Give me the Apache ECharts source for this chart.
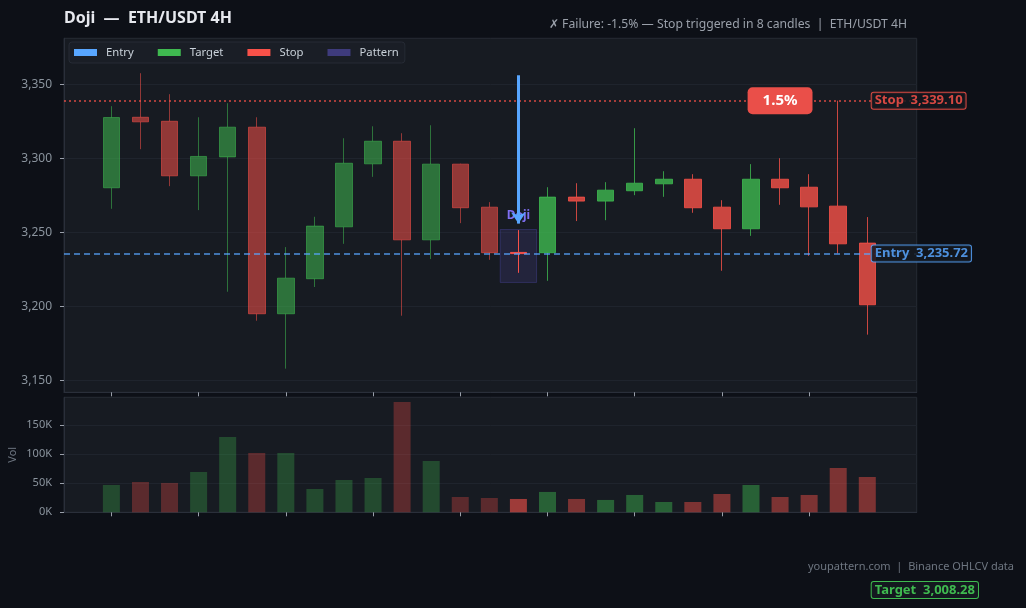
<!DOCTYPE html>
<html>
<head>
<meta charset="utf-8">
<script src="https://cdn.jsdelivr.net/npm/echarts@6/dist/echarts.min.js"></script>
<style>
html,body{margin:0;padding:0;background:#0d1017;}
#chart{width:1026px;height:608px;}
</style>
</head>
<body>
<div id="chart"></div>
<script>
// ---------- data ----------
const candleIndex = [0,1,2,3,4,5,6,7,8,9,10,11,12,13,14,15,16,17,18,19,20,21,22,23,24,25,26];
const opens  = [3280.2,3327.9,3325.2,3288.3,3301.1,3321.2,3195.0,3218.7,3253.8,3296.4,3311.7,3245.0,3296.2,3267.1,3236.5,3236.3,3273.9,3271.2,3278.2,3282.9,3286.0,3267.1,3252.5,3286.0,3280.6,3267.8,3242.8];
const closes = [3327.7,3324.8,3288.3,3301.4,3321.2,3195.0,3219.1,3254.3,3296.8,3311.7,3245.0,3296.2,3266.7,3236.3,3235.7,3273.9,3271.2,3278.6,3283.3,3286.0,3266.7,3252.5,3286.0,3280.2,3267.3,3242.3,3201.1];
const lows   = [3266.0,3306.3,3281.3,3265.1,3209.9,3190.3,3157.9,3213.1,3242.3,3287.6,3193.7,3232.0,3256.3,3231.5,3222.7,3217.3,3257.7,3258.3,3275.2,3274.1,3263.3,3224.1,3247.7,3268.7,3234.2,3235.8,3180.9];
const highs  = [3335.4,3357.7,3343.5,3327.9,3337.4,3327.9,3240.1,3260.6,3313.7,3321.8,3317.1,3322.5,3296.5,3270.5,3251.6,3280.6,3283.3,3284.0,3320.5,3291.4,3289.4,3271.8,3296.2,3300.2,3289.4,3339.1,3260.4];
const volumes = [47100,52300,50600,69500,129900,102300,102300,40200,55700,59200,190200,88500,26400,24700,23000,35100,23000,21300,29900,17800,17800,31600,47100,26400,29900,76400,60900];

const priceTicks  = [3150,3200,3250,3300,3350];
const volumeTicks = [0,50000,100000,150000];
const timeTicks   = [0,3,6,9,12,15,18,21,24];
const legendNames = ['Entry','Target','Stop','Pattern'];

const entryPrice  = 3235.72;
const stopPrice   = 3339.10;
const targetPrice = 3008.28;
const patternIndex = 14;
const patternName = 'Doji';
const patternBoxX = [13.375, 14.625];
const patternBoxY = [3252.0, 3216.2];
const arrowY = [3356.3, 3256.0];
const badgeIndex = 23;
const badgeText = '1.5%';

// ---------- styling ----------
const FONT = 'Noto Sans';
const GREEN = '#3fb950', RED = '#f85149', BLUE = '#58a6ff', PURPLE = '#3e3b7c';
const xMin = -1.63, xMax = 27.7;
const fmt = v => v.toLocaleString('en-US', {minimumFractionDigits: 2, maximumFractionDigits: 2});

const candleData = candleIndex.map((x, i) => ({
  value: [x, opens[i], closes[i], lows[i], highs[i]],
  itemStyle: {opacity: i < patternIndex ? 0.55 : (i === patternIndex ? 1 : 0.8)}
}));
const volumeData = candleIndex.map((x, i) => ({
  value: [x, volumes[i]],
  itemStyle: {
    color: closes[i] >= opens[i] ? GREEN : RED,
    opacity: i < patternIndex ? 0.3 : (i === patternIndex ? 0.6 : 0.45)
  }
}));

const LABEL_SHIFT = -45;
function labelStyle(color) {
  return {
    color: color, fontFamily: FONT, fontSize: 13, fontWeight: 'bold',
    backgroundColor: '#14181f', borderColor: color, borderWidth: 1,
    borderRadius: 2, padding: [2, 3, 1, 3]
  };
}
function levelLine(color, type, width, opacity, price, text) {
  return {
    silent: true,
    symbol: ['none', 'none'],
    lineStyle: {color: color, type: type, width: width, opacity: opacity},
    label: Object.assign({show: true, position: 'end', distance: LABEL_SHIFT,
                          formatter: text + '  ' + fmt(price)}, labelStyle(color)),
    emphasis: {disabled: true},
    data: [{yAxis: price}]
  };
}

const chart = echarts.init(document.getElementById('chart'), null, {renderer: 'canvas'});
const gridBase = {left: 64, right: 109.3, show: true, backgroundColor: '#171b22',
                  borderColor: '#262b34', borderWidth: 1, outerBoundsMode: 'none', containLabel: false};
const subtitle = {type: 'text', right: 119, top: 19,
  style: {text: '✗ Failure: -1.5% — Stop triggered in 8 candles  |  ETH/USDT 4H', fill: '#9aa0aa', font: '12.2px "Noto Sans"'}};
const footer = {type: 'text', right: 12, top: 561,
  style: {text: 'youpattern.com  |  Binance OHLCV data', fill: '#6e7681', font: '11px "Noto Sans"'}};

chart.setOption({
  animation: false,
  backgroundColor: '#0d1017',
  textStyle: {fontFamily: FONT},
  title: {
    text: 'Doji  —  ETH/USDT 4H',
    left: 59, top: 5,
    textStyle: {color: '#e6e8ee', fontSize: 16, fontWeight: 'bold', fontFamily: FONT}
  },
  graphic: [subtitle, footer],
  legend: {
    left: 69, top: 42,
    backgroundColor: '#1a1e26', borderColor: '#262b35', borderWidth: 1, borderRadius: 3,
    padding: [5, 6, 5, 5],
    itemWidth: 23, itemHeight: 7, itemGap: 24,
    selectedMode: false,
    textStyle: {color: '#c9d1d9', fontSize: 11.3, fontFamily: FONT, padding: [0, 0, 0, 4]},
    data: [
      {name: 'Entry', icon: 'rect', itemStyle: {color: BLUE}},
      {name: 'Target', icon: 'rect', itemStyle: {color: GREEN}},
      {name: 'Stop', icon: 'rect', itemStyle: {color: RED}},
      {name: 'Pattern', icon: 'rect', itemStyle: {color: PURPLE}}
    ]
  },
  grid: [
    Object.assign({top: 38.3, height: 354}, gridBase),
    Object.assign({top: 397.3, height: 115}, gridBase)
  ],
  xAxis: [0, 1].map(g => ({
    type: 'value', gridIndex: g, min: xMin, max: xMax,
    axisLine: {show: true, onZero: false, lineStyle: {color: '#2a2f3a'}},
    axisTick: {show: true, length: 4, customValues: timeTicks, lineStyle: {color: '#9aa0aa'}},
    axisLabel: {show: false},
    splitLine: {show: false}
  })),
  yAxis: [
    {type: 'value', gridIndex: 0, min: 3141.9, max: 3381.3, scale: true,
     axisLine: {show: true, onZero: false, lineStyle: {color: '#2a2f3a'}},
     axisTick: {show: true, length: 4, customValues: priceTicks, lineStyle: {color: '#9aa0aa'}},
     axisLabel: {color: '#8b949e', fontSize: 12, fontFamily: FONT, margin: 12, customValues: priceTicks,
                 formatter: v => v.toLocaleString('en-US')},
     splitLine: {show: true, lineStyle: {color: '#1f242d'}}},
    {type: 'value', gridIndex: 1, min: 0, max: 198300,
     name: 'Vol', nameLocation: 'middle', nameGap: 46, nameRotate: 90, nameMoveOverlap: false,
     nameTextStyle: {color: '#6e7681', fontSize: 11, fontFamily: FONT},
     axisLine: {show: true, onZero: false, lineStyle: {color: '#2a2f3a'}},
     axisTick: {show: true, length: 4, customValues: volumeTicks, lineStyle: {color: '#9aa0aa'}},
     axisLabel: {color: '#8b949e', fontSize: 11, fontFamily: FONT, margin: 12, customValues: volumeTicks,
                 formatter: v => (v / 1000) + 'K'},
     splitLine: {show: true, lineStyle: {color: '#1f242d'}}}
  ],
  series: [
    {
      name: 'Candles', type: 'candlestick', xAxisIndex: 0, yAxisIndex: 0,
      encode: {x: 0, y: [1, 2, 3, 4]},
      barWidth: 17,
      itemStyle: {color: GREEN, color0: RED, borderColor: GREEN, borderColor0: RED, borderWidth: 1},
      data: candleData
    },
    {
      name: 'Volume', type: 'bar', xAxisIndex: 1, yAxisIndex: 1,
      barWidth: 17,
      data: volumeData
    },
    {
      name: 'Pattern', type: 'line', xAxisIndex: 0, yAxisIndex: 0, data: [],
      itemStyle: {color: PURPLE},
      markArea: {
        silent: true,
        itemStyle: {color: 'rgba(62,59,124,0.3)', borderColor: 'rgba(70,66,150,0.45)', borderWidth: 1},
        label: {show: true, position: 'top', distance: 7, color: '#7f6ff2', fontSize: 12,
                fontWeight: 'bold', fontFamily: FONT},
        data: [[{name: patternName, coord: [patternBoxX[0], patternBoxY[0]]},
                {coord: [patternBoxX[1], patternBoxY[1]]}]]
      }
    },
    {
      name: 'Entry', type: 'line', xAxisIndex: 0, yAxisIndex: 0, data: [],
      itemStyle: {color: BLUE},
      markLine: levelLine(BLUE, [6, 4], 1.6, 0.85, entryPrice, 'Entry')
    },
    {
      name: 'Target', type: 'line', xAxisIndex: 0, yAxisIndex: 0, data: [],
      itemStyle: {color: GREEN}
    },
    {
      name: 'Stop', type: 'line', xAxisIndex: 0, yAxisIndex: 0, data: [],
      itemStyle: {color: RED},
      markLine: levelLine(RED, [2, 3], 1.6, 0.85, stopPrice, 'Stop'),
      markPoint: {
        silent: true,
        symbol: 'rect', symbolSize: 1,
        itemStyle: {color: 'rgba(0,0,0,0)'},
        label: {show: true, position: 'inside', formatter: badgeText,
                backgroundColor: '#ea4f49', borderRadius: 5, padding: [6, 15, 6, 15],
                color: '#ffffff', fontSize: 15, fontWeight: 'bold', fontFamily: FONT},
        data: [{coord: [badgeIndex, stopPrice]}]
      }
    },
    {
      name: 'Arrow', type: 'line', xAxisIndex: 0, yAxisIndex: 0, data: [],
      markLine: {
        silent: true,
        symbol: ['none', 'arrow'], symbolSize: 11,
        lineStyle: {color: BLUE, type: 'solid', width: 3, opacity: 1},
        label: {show: false},
        data: [[{coord: [patternIndex, arrowY[0]]}, {coord: [patternIndex, arrowY[1]]}]]
      }
    }
  ]
});

// Target level lies below the price axis range: place its tag using the axis scale (extrapolated).
const tY = chart.convertToPixel({yAxisIndex: 0}, targetPrice);
const tX = chart.convertToPixel({xAxisIndex: 0}, xMax) + LABEL_SHIFT;
const ts = labelStyle(GREEN);
chart.setOption({
  graphic: [
    subtitle,
    footer,
    {type: 'text', x: tX, y: tY, z: 10,
     style: {text: 'Target  ' + fmt(targetPrice), fill: GREEN, font: 'bold 13px "Noto Sans"',
             align: 'left', verticalAlign: 'middle',
             backgroundColor: ts.backgroundColor, borderColor: GREEN, borderWidth: 1,
             borderRadius: 2, padding: [2, 3, 1, 3]}}
  ]
});
</script>
</body>
</html>
